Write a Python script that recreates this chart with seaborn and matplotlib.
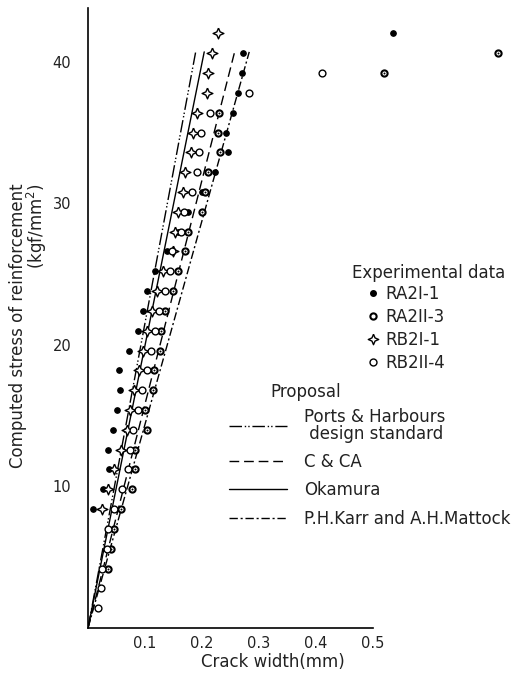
import matplotlib
matplotlib.use("Agg")
import matplotlib.pyplot as plt
from matplotlib.lines import Line2D
import seaborn as sns

sns.set_theme(style="white")
plt.rcParams["font.family"] = ["DejaVu Sans"]

# RA2I-1 (filled dots): computed stress (kgf/mm^2) and crack width (mm)
ra2i1_stress = [8.4, 9.8, 11.2, 12.6, 14.0, 15.4, 16.8, 18.2, 19.6, 21.0, 22.4, 23.8,
                25.2, 26.6, 28.0, 29.4, 30.8, 32.2, 33.6, 35.0, 36.4, 37.8, 39.2, 40.6, 42.0]
ra2i1_width = [0.009, 0.026, 0.037, 0.035, 0.044, 0.051, 0.056, 0.054, 0.072, 0.088, 0.096, 0.104,
               0.118, 0.139, 0.158, 0.175, 0.200, 0.223, 0.246, 0.242, 0.254, 0.263, 0.270, 0.272, 0.535]

# RA2II-3 (dotted circles)
ra2ii3_stress = [4.2, 5.6, 7.0, 8.4, 9.8, 11.2, 12.6, 14.0, 15.4, 16.8, 18.2, 19.6, 21.0,
                 22.4, 23.8, 25.2, 26.6, 28.0, 29.4, 30.8, 32.2, 33.6, 35.0, 36.4, 39.2, 40.6]
ra2ii3_width = [0.035, 0.040, 0.046, 0.058, 0.077, 0.082, 0.082, 0.104, 0.100, 0.114, 0.116, 0.126, 0.128,
                0.135, 0.149, 0.158, 0.170, 0.175, 0.200, 0.205, 0.211, 0.232, 0.228, 0.230, 0.520, 0.720]

# RB2I-1 (four-point diamonds)
rb2i1_stress = [8.4, 9.8, 11.2, 12.6, 14.0, 15.4, 16.8, 18.2, 19.6, 21.0, 22.4, 23.8,
                25.2, 26.6, 28.0, 29.4, 30.8, 32.2, 33.6, 35.0, 36.4, 37.8, 39.2, 40.6, 42.0]
rb2i1_width = [0.025, 0.035, 0.046, 0.058, 0.068, 0.074, 0.081, 0.089, 0.096, 0.104, 0.112, 0.121,
               0.132, 0.149, 0.153, 0.158, 0.167, 0.170, 0.181, 0.184, 0.191, 0.209, 0.211, 0.218, 0.228]

# RB2II-4 (open circles)
rb2ii4_stress = [1.4, 2.8, 4.2, 5.6, 7.0, 8.4, 9.8, 11.2, 12.6, 14.0, 15.4, 16.8, 18.2, 19.6, 21.0,
                 22.4, 23.8, 25.2, 26.6, 28.0, 29.4, 30.8, 32.2, 33.6, 35.0, 36.4, 37.8, 39.2]
rb2ii4_width = [0.018, 0.023, 0.025, 0.033, 0.035, 0.046, 0.060, 0.070, 0.074, 0.079, 0.088, 0.095, 0.104, 0.110, 0.118,
                0.125, 0.135, 0.144, 0.147, 0.163, 0.168, 0.182, 0.191, 0.195, 0.198, 0.214, 0.282, 0.410]

# Proposed crack width formulas: width reached at the top stress
line_names = ["Ports & Harbours\n design standard", "C & CA", "Okamura", "P.H.Karr and A.H.Mattock"]
line_top_stress = [40.7, 40.8, 40.7, 40.7]
line_top_width = [0.189, 0.258, 0.204, 0.283]
line_styles = [(0, (9, 2, 1, 1.5, 1, 2)), (0, (7, 3.5)), "-", (0, (6, 2, 1.5, 2))]

x_ticks = [0.1, 0.2, 0.3, 0.4, 0.5]
y_ticks = [10, 20, 30, 40]

W, H = 521, 682
fig = plt.figure(figsize=(W / 100, H / 100), dpi=100)
ax = fig.add_axes([88 / W, 54 / H, 433 / W, 620 / H])
ax.set_xlim(0, 0.76)
ax.set_ylim(0, 43.8)

# concave four-point star marker
star = [(0, 1), (0.3, 0.3), (1, 0), (0.3, -0.3), (0, -1), (-0.3, -0.3), (-1, 0), (-0.3, 0.3), (0, 1)]

for name, w, s, ls in zip(line_names, line_top_width, line_top_stress, line_styles):
    sns.lineplot(x=[0, w], y=[0, s], sort=False, estimator=None, color="black",
                 linewidth=1.0, linestyle=ls, ax=ax, zorder=2)

sns.scatterplot(x=ra2i1_width, y=ra2i1_stress, marker="o", s=16, color="black",
                edgecolor="black", linewidth=0.8, ax=ax, zorder=4)
sns.scatterplot(x=ra2ii3_width, y=ra2ii3_stress, marker="o", s=20, facecolor="white",
                edgecolor="black", linewidth=1.5, ax=ax, zorder=4)
sns.scatterplot(x=ra2ii3_width, y=ra2ii3_stress, marker="o", s=2, color="black",
                linewidth=0, ax=ax, zorder=5)
sns.scatterplot(x=rb2i1_width, y=rb2i1_stress, marker=star, s=60, facecolor="white",
                edgecolor="black", linewidth=1.0, ax=ax, zorder=4)
sns.scatterplot(x=rb2ii4_width, y=rb2ii4_stress, marker="o", s=24, facecolor="white",
                edgecolor="black", linewidth=1.0, ax=ax, zorder=4)

sns.despine(ax=ax)
for side in ("left", "bottom"):
    ax.spines[side].set_color("black")
    ax.spines[side].set_linewidth(1.2)
ax.spines["bottom"].set_bounds(0, 0.5)

ax.set_xticks(x_ticks)
ax.set_xticklabels([f"{v:.1f}" for v in x_ticks])
ax.set_yticks(y_ticks)
ax.set_yticklabels([str(v) for v in y_ticks])
ax.tick_params(axis="both", direction="in", length=4, width=1, colors="black",
               labelsize=10.5, labelcolor="#222222")
ax.tick_params(axis="x", pad=6)
ax.tick_params(axis="y", pad=12)
ax.set_xlabel("")
ax.set_ylabel("")


def fx(px):
    return px / W


def fy(py):
    return 1 - py / H


fs = 12
txt = dict(color="#222222", fontsize=fs)
fig.text(fx(273), fy(662), "Crack width(mm)", ha="center", va="center", **txt)
fig.text(fx(18), fy(183), "Computed stress of reinforcement", rotation=90,
         ha="center", va="top", **txt)
fig.text(fx(37), fy(183), "(kgf/mm$^2$)", rotation=90, ha="center", va="top", **txt)

# experimental data legend
fig.text(fx(352), fy(273), "Experimental data", ha="left", va="center", **txt)
exp_handles = [
    Line2D([], [], marker="o", ls="none", markersize=4, color="black"),
    Line2D([], [], marker="o", ls="none", markersize=4.5, markerfacecolor="white",
           markeredgecolor="black", markeredgewidth=1.5),
    Line2D([], [], marker=star, ls="none", markersize=7.5, markerfacecolor="white",
           markeredgecolor="black", markeredgewidth=1.0),
    Line2D([], [], marker="o", ls="none", markersize=5, markerfacecolor="white",
           markeredgecolor="black", markeredgewidth=1.0),
]
exp_labels = ["RA2I-1", "RA2II-3", "RB2I-1", "RB2II-4"]
fig.legend(exp_handles, exp_labels, loc="upper left", bbox_to_anchor=(fx(367), fy(285)),
           frameon=False, handlelength=0.7, handletextpad=0.4, labelspacing=0.3,
           borderpad=0, borderaxespad=0, fontsize=fs, labelcolor="#222222")

# proposal legend
fig.text(fx(270), fy(392), "Proposal", ha="left", va="center", **txt)
prop_handles = [Line2D([], [], color="black", lw=1.0, ls=ls) for ls in line_styles]
leg2 = fig.legend(prop_handles, line_names,
                  loc="upper left", bbox_to_anchor=(fx(229), fy(408)),
                  frameon=False, handlelength=3.5, handletextpad=1.0, labelspacing=0.62,
                  borderpad=0, borderaxespad=0, fontsize=fs, labelcolor="#222222")
for t in leg2.get_texts():
    t.set_linespacing(0.9)

fig.savefig("out.png", dpi=100, facecolor="white")
